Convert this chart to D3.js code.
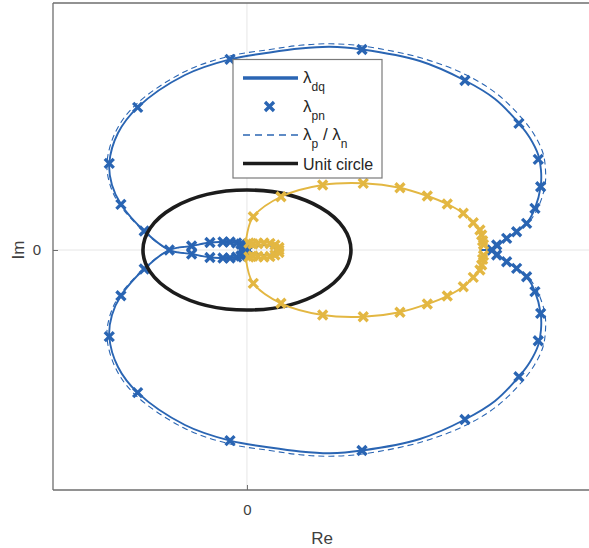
<!DOCTYPE html>
<html>
<head>
<meta charset="utf-8">
<script src="https://cdn.jsdelivr.net/npm/d3@7"></script>
<style>
  body { margin: 0; background: #fff; }
  text { font-family: "Liberation Sans", Arial, sans-serif; }
</style>
</head>
<body>
<div id="vis"></div>
<script>
// eigenvalue loci, [Re, Im]; upper and lower halves
const dqUpper = [[2.240,0],[2.317,0],[2.385,0.025],[2.433,0.117],[2.497,0.195],[2.593,0.305],[2.689,0.445],[2.769,0.695],[2.824,1.055],[2.827,1.333],[2.801,1.583],[2.721,1.867],[2.615,2.112],[2.385,2.517],[2.096,2.825],[1.663,3.150],[1.106,3.342],[0.798,3.387],[0.510,3.358],[0.221,3.292],[-0.163,3.178],[-0.596,2.917],[-1.051,2.378],[-1.240,1.950],[-1.324,1.445],[-1.298,1.083],[-1.212,0.762],[-0.988,0.317],[-0.747,0],[-0.532,-0.067],[-0.356,-0.125],[-0.231,-0.133],[-0.163,-0.133],[-0.099,-0.117],[-0.038,-0.083],[0,-0.025],[0.048,0.042],[0.115,0.075],[0.192,0.083],[0.250,0.058],[0.288,0]];
const dqLower = [[2.240,0],[2.317,0],[2.385,-0.025],[2.433,-0.117],[2.497,-0.195],[2.593,-0.305],[2.689,-0.445],[2.769,-0.695],[2.824,-1.055],[2.827,-1.333],[2.801,-1.583],[2.721,-1.867],[2.615,-2.112],[2.385,-2.517],[2.096,-2.825],[1.663,-3.150],[1.106,-3.342],[0.798,-3.387],[0.510,-3.358],[0.221,-3.292],[-0.163,-3.178],[-0.596,-2.917],[-1.051,-2.378],[-1.240,-1.950],[-1.324,-1.445],[-1.298,-1.083],[-1.212,-0.762],[-0.988,-0.317],[-0.747,0],[-0.532,0.067],[-0.356,0.125],[-0.231,0.133],[-0.163,0.133],[-0.099,0.117],[-0.038,0.083],[0,0.025],[0.048,-0.042],[0.115,-0.075],[0.192,-0.083],[0.250,-0.058],[0.288,0]];

const pnUpper = [[2.240,0],[2.317,0],[2.394,0.025],[2.452,0.125],[2.519,0.217],[2.615,0.333],[2.716,0.475],[2.803,0.725],[2.865,1.067],[2.870,1.350],[2.846,1.617],[2.764,1.917],[2.654,2.175],[2.418,2.583],[2.120,2.908],[1.678,3.200],[1.111,3.400],[0.798,3.437],[0.510,3.412],[0.221,3.342],[-0.163,3.233],[-0.606,2.967],[-1.072,2.417],[-1.264,1.967],[-1.346,1.450],[-1.313,1.067],[-1.221,0.750],[-0.990,0.308],[-0.747,0],[-0.532,-0.067],[-0.356,-0.125],[-0.231,-0.133],[-0.163,-0.133],[-0.099,-0.117],[-0.038,-0.083],[0,-0.025],[0.048,0.042],[0.115,0.075],[0.192,0.083],[0.250,0.058],[0.288,0]];
const pnLower = [[2.240,0],[2.317,0],[2.394,-0.025],[2.452,-0.125],[2.519,-0.217],[2.615,-0.333],[2.716,-0.475],[2.803,-0.725],[2.865,-1.067],[2.870,-1.350],[2.846,-1.617],[2.764,-1.917],[2.654,-2.175],[2.418,-2.583],[2.120,-2.908],[1.678,-3.200],[1.111,-3.400],[0.798,-3.437],[0.510,-3.412],[0.221,-3.342],[-0.163,-3.233],[-0.606,-2.967],[-1.072,-2.417],[-1.264,-1.967],[-1.346,-1.450],[-1.313,-1.067],[-1.221,-0.750],[-0.990,-0.308],[-0.747,0],[-0.532,0.067],[-0.356,0.125],[-0.231,0.133],[-0.163,0.133],[-0.099,0.117],[-0.038,0.083],[0,0.025],[0.048,-0.042],[0.115,-0.075],[0.192,-0.083],[0.250,-0.058],[0.288,0]];

const pnMarks = [[2.356,0],[2.401,0.083],[2.497,0.195],[2.593,0.305],[2.689,0.445],[2.769,0.695],[2.824,1.055],[2.801,1.512],[2.615,2.112],[2.096,2.825],[1.106,3.342],[-0.163,3.178],[-1.051,2.378],[-1.324,1.445],[-1.212,0.762],[-0.988,0.317],[-0.747,0],[-0.532,-0.067],[-0.356,-0.125],[-0.231,-0.133],[-0.163,-0.133],[-0.099,-0.117],[-0.058,-0.100],[-0.038,-0.083],[-0.014,-0.050],[0,-0.017],
  [2.401,-0.083],[2.497,-0.195],[2.593,-0.305],[2.689,-0.445],[2.769,-0.695],[2.824,-1.055],[2.801,-1.512],[2.615,-2.112],[2.096,-2.825],[1.106,-3.342],[-0.163,-3.178],[-1.051,-2.378],[-1.324,-1.445],[-1.212,-0.762],[-0.988,-0.317],[-0.532,0.067],[-0.356,0.125],[-0.231,0.133],[-0.163,0.133],[-0.099,0.117],[-0.058,0.100],[-0.038,0.083],[-0.014,0.050],[0,0.017]];

const ylwUpper = [[2.240,0],[2.279,0.100],[2.274,0.167],[2.260,0.250],[2.240,0.333],[2.176,0.455],[2.080,0.612],[1.926,0.767],[1.734,0.900],[1.471,1.038],[1.118,1.112],[0.728,1.083],[0.327,0.888],[0.061,0.555],[0.005,0.300],[0,0.100],[0.029,0.117],[0.087,0.130],[0.154,0.133],[0.221,0.125],[0.288,0.100],[0.320,0.055],[0.330,0]];
const ylwLower = [[2.240,0],[2.279,-0.100],[2.274,-0.167],[2.260,-0.250],[2.240,-0.333],[2.176,-0.455],[2.080,-0.612],[1.926,-0.767],[1.734,-0.900],[1.471,-1.038],[1.118,-1.112],[0.728,-1.083],[0.327,-0.888],[0.061,-0.555],[0.005,-0.300],[0,-0.100],[0.029,-0.117],[0.087,-0.130],[0.154,-0.133],[0.221,-0.125],[0.288,-0.100],[0.320,-0.055],[0.330,0]];
const ylwMarks = [[2.274,0.092],[2.266,0.155],[2.257,0.250],[2.240,0.333],[2.176,0.455],[2.080,0.612],[1.926,0.767],[1.734,0.900],[1.471,1.038],[1.118,1.112],[0.728,1.083],[0.327,0.888],[0.061,0.555],[0.019,0.117],[0.058,0.100],[0.106,0.108],[0.163,0.117],[0.221,0.108],[0.269,0.083],[0.308,0.042],[0.308,0],
  [2.274,-0.092],[2.266,-0.155],[2.257,-0.250],[2.240,-0.333],[2.176,-0.455],[2.080,-0.612],[1.926,-0.767],[1.734,-0.900],[1.471,-1.038],[1.118,-1.112],[0.728,-1.083],[0.327,-0.888],[0.061,-0.555],[0.019,-0.117],[0.058,-0.100],[0.106,-0.108],[0.163,-0.117],[0.221,-0.108],[0.269,-0.083],[0.308,-0.042]];

const xTicks = [0];
const yTicks = [0];
const legendItems = ["dq", "pn", "pdash", "unit"];

const BLUE = "#2a65b3";
const YELLOW = "#e3b742";
const AXIS = "#6e6e6e";

const FRAME_WIDTH = 589;
const FRAME_HEIGHT = 548;
const PLOT = {left: 53, right: 591, top: 3, bottom: 490};

const svg = d3.select("#vis").append("svg")
  .attr("width", FRAME_WIDTH)
  .attr("height", FRAME_HEIGHT);

const x = d3.scaleLinear().domain([-1.865, 3.308]).range([PLOT.left, PLOT.right]);
const y = d3.scaleLinear().domain([-4.0, 4.117]).range([PLOT.bottom, PLOT.top]);

// grid at zero
svg.append("g").selectAll("line").data(xTicks).join("line")
  .attr("x1", d => x(d)).attr("x2", d => x(d))
  .attr("y1", PLOT.top).attr("y2", PLOT.bottom)
  .attr("stroke", "#e6e6e6").attr("stroke-width", 1);
svg.append("g").selectAll("line").data(yTicks).join("line")
  .attr("y1", d => y(d)).attr("y2", d => y(d))
  .attr("x1", PLOT.left).attr("x2", PLOT.right)
  .attr("stroke", "#e6e6e6").attr("stroke-width", 1);

// axes: MATLAB-like inward ticks
const xAxis = d3.axisBottom(x).tickValues(xTicks).tickSize(-5).tickPadding(14).tickFormat(d3.format("d"));
const yAxis = d3.axisLeft(y).tickValues(yTicks).tickSize(-5).tickPadding(12).tickFormat(d3.format("d"));

const gx = svg.append("g").attr("transform", `translate(0,${PLOT.bottom})`).call(xAxis);
const gy = svg.append("g").attr("transform", `translate(${PLOT.left},0)`).call(yAxis);
[gx, gy].forEach(g => {
  g.select(".domain").attr("stroke", AXIS).attr("stroke-width", 1.3);
  g.selectAll(".tick line").attr("stroke", AXIS);
  g.selectAll(".tick text").attr("fill", "#404040").attr("font-size", 15)
    .attr("font-family", "Liberation Sans, Arial, sans-serif");
});
gx.select(".domain").attr("d", `M${PLOT.left},0H${PLOT.right}`);
gy.select(".domain").attr("d", `M0,${PLOT.bottom}V${PLOT.top}`);
svg.append("line")
  .attr("x1", PLOT.left).attr("x2", PLOT.right)
  .attr("y1", PLOT.top).attr("y2", PLOT.top)
  .attr("stroke", AXIS).attr("stroke-width", 1.3);

svg.append("text")
  .attr("x", (PLOT.left + PLOT.right) / 2).attr("y", 544)
  .attr("text-anchor", "middle").attr("font-size", 17).attr("fill", "#404040")
  .text("Re");
svg.append("text")
  .attr("transform", `translate(24,${y(0)}) rotate(-90)`)
  .attr("text-anchor", "middle").attr("font-size", 17).attr("fill", "#404040")
  .text("Im");

const line = d3.line()
  .x(d => x(d[0])).y(d => y(d[1]))
  .curve(d3.curveCatmullRom.alpha(0.5));

const xMark = "M-4.5,-4.5L4.5,4.5M-4.5,4.5L4.5,-4.5";

const plot = svg.append("g");

// lambda_dq
plot.selectAll(".dq").data([dqUpper, dqLower]).join("path")
  .attr("d", line).attr("fill", "none")
  .attr("stroke", BLUE).attr("stroke-width", 1.9);

// lambda_pn markers
plot.append("g").selectAll("path").data(pnMarks).join("path")
  .attr("d", xMark)
  .attr("transform", d => `translate(${x(d[0])},${y(d[1])})`)
  .attr("stroke", BLUE).attr("stroke-width", 3.3).attr("fill", "none");

// lambda_p / lambda_n dashed
plot.selectAll(".pn").data([pnUpper, pnLower]).join("path")
  .attr("d", line).attr("fill", "none")
  .attr("stroke", BLUE).attr("stroke-width", 1.1)
  .attr("stroke-dasharray", "6,4");

// unit circle
plot.append("ellipse")
  .attr("cx", x(0)).attr("cy", y(0))
  .attr("rx", x(1) - x(0)).attr("ry", y(0) - y(1))
  .attr("fill", "none").attr("stroke", "#1c1c1c").attr("stroke-width", 3.6);

// second locus (yellow)
plot.append("g").selectAll("path").data([ylwUpper, ylwLower]).join("path")
  .attr("d", line).attr("fill", "none")
  .attr("stroke", YELLOW).attr("stroke-width", 1.9);
plot.append("g").selectAll("path").data(ylwMarks).join("path")
  .attr("d", xMark)
  .attr("transform", d => `translate(${x(d[0])},${y(d[1])})`)
  .attr("stroke", YELLOW).attr("stroke-width", 3.3).attr("fill", "none");

// legend
const LEG = {x: 233, y: 59.5, w: 149, h: 118.5, row0: 78, step: 28.5};
const legend = svg.append("g");
legend.append("rect")
  .attr("x", LEG.x).attr("y", LEG.y).attr("width", LEG.w).attr("height", LEG.h)
  .attr("fill", "#fff").attr("stroke", "#7a7a7a").attr("stroke-width", 1.2);

const rows = legend.selectAll("g").data(legendItems).join("g")
  .attr("transform", (d, i) => `translate(0,${LEG.row0 + i * LEG.step})`);

rows.each(function(d) {
  const g = d3.select(this);
  if (d === "pn") {
    g.append("path").attr("d", xMark).attr("transform", "translate(269.5,0)")
      .attr("stroke", BLUE).attr("stroke-width", 3.3).attr("fill", "none");
  } else {
    g.append("line").attr("x1", 243).attr("x2", 298).attr("y1", 0).attr("y2", 0)
      .attr("stroke", d === "unit" ? "#1c1c1c" : BLUE)
      .attr("stroke-width", d === "pdash" ? 1.3 : 3.6)
      .attr("stroke-dasharray", d === "pdash" ? "7,5" : null);
  }
  const t = g.append("text").attr("x", 303).attr("y", 5).attr("font-size", 17).attr("fill", "#262626");
  if (d === "unit") {
    t.attr("font-size", 16).attr("y", 6).text("Unit circle");
  } else if (d === "pdash") {
    t.append("tspan").text("λ");
    t.append("tspan").attr("dy", 8).attr("font-size", 12).text("p");
    t.append("tspan").attr("dy", -8).text(" / λ");
    t.append("tspan").attr("dy", 8).attr("font-size", 12).text("n");
  } else {
    t.append("tspan").text("λ");
    t.append("tspan").attr("dy", 8).attr("font-size", 12).text(d);
  }
});
</script>
</body>
</html>
